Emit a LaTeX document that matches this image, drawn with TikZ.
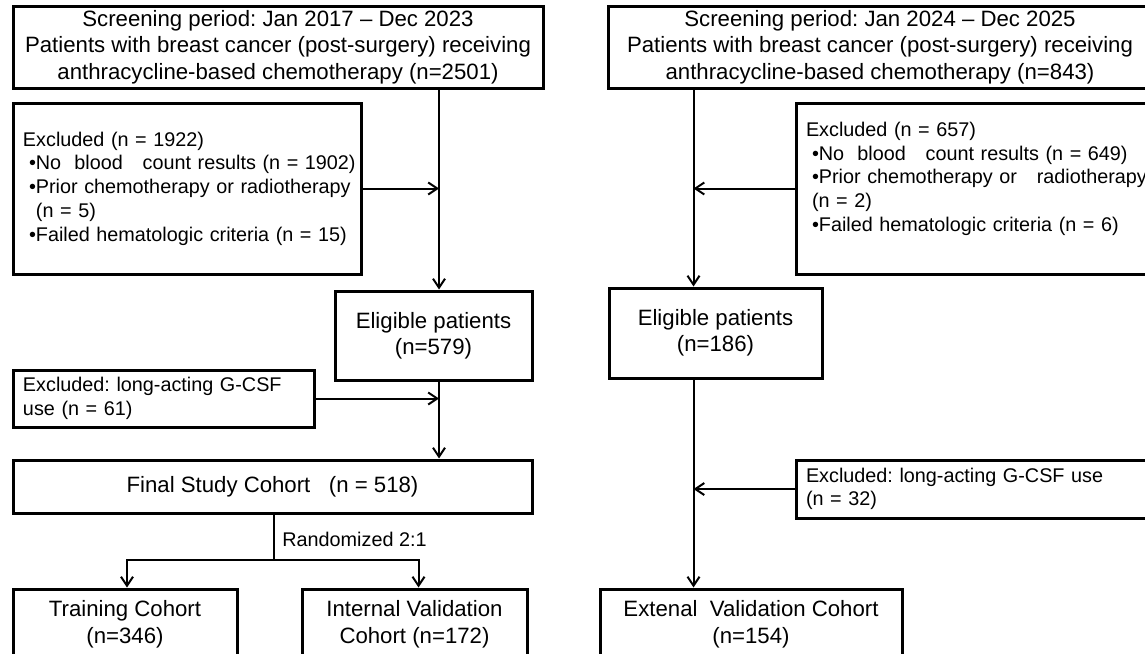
\documentclass[tikz,border=0pt]{standalone}
\usepackage{fontspec}
\setmainfont{Liberation Sans}
\usetikzlibrary{arrows.meta}
\frenchspacing
\newcommand{\exbul}{\hspace*{3pt}\textbullet}
\newcommand{\exind}{\hspace*{3pt}}

\begin{document}
\begin{tikzpicture}[x=0.5pt, y=-0.5pt, >={Straight Barb[length=4.5pt,width=6pt]},
    bigtxt/.style={font=\fontsize{11.1pt}{13.25pt}\selectfont},
    smalltxt/.style={font=\fontsize{9.9pt}{11.85pt}\selectfont},
    box/.style={draw, line width=1.5pt, inner sep=0pt, align=center, bigtxt},
    exbox/.style={draw, line width=1.5pt, inner xsep=5pt, inner ysep=0pt, align=left, smalltxt},
    conn/.style={line width=1pt}]
    \useasboundingbox (0,0) rectangle (1145,653);
    \clip (0,0) rectangle (1145,653);

    % left column
    \node[box, minimum width=265pt, minimum height=41pt] (scrL) at (278,47) {Screening period: Jan 2017 – Dec 2023\\Patients with breast cancer (post-surgery) receiving\\anthracycline-based chemotherapy (n=2501)};
    \node[exbox, minimum width=174pt, minimum height=85.5pt, text width=164pt] (exclL) at (187,188.5) {Excluded (n = 1922)\\\mbox{\exbul No\ \ blood\ \ \ count results (n = 1902)}\\\mbox{\exbul Prior chemotherapy or radiotherapy}\\\exind\phantom{\textbullet}(n = 5)\\\mbox{\exbul Failed hematologic criteria (n = 15)}};
    \node[box, minimum width=98.5pt, minimum height=44.5pt] (eligL) at (433.5,335.5) {Eligible patients\\(n=579)};
    \node[exbox, minimum width=150.5pt, minimum height=28.5pt, text width=140.5pt] (gcsfL) at (163.5,398.5) {Excluded: long-acting G-CSF\\use (n = 61)};
    \node[box, minimum width=259.5pt, minimum height=26.5pt] (final) at (272.5,486.5) {Final Study Cohort\ \ \ (n = 518)};
    \node[smalltxt, anchor=west, inner sep=0pt] (rand) at (282,539) {Randomized 2:1};
    \node[box, minimum width=112pt, minimum height=35pt] (train) at (125,624) {Training Cohort\\(n=346)};
    \node[box, minimum width=112.5pt, minimum height=35pt] (intval) at (414.5,624) {Internal Validation\\Cohort (n=172)};

    % right column
    \node[box, minimum width=272pt, minimum height=41pt] (scrR) at (880,47) {Screening period: Jan 2024 – Dec 2025\\Patients with breast cancer (post-surgery) receiving\\anthracycline-based chemotherapy (n=843)};
    \node[exbox, minimum width=182pt, minimum height=85.5pt, text width=172pt] (exclR) at (978,188.5) {Excluded (n = 657)\\\mbox{\exbul No\ \ blood\ \ \ count results (n = 649)}\\\mbox{\exbul Prior chemotherapy or\ \ \ radiotherapy}\\\exind(n = 2)\\\mbox{\exbul Failed hematologic criteria (n = 6)}\\\mbox{}};
    \node[box, minimum width=106.5pt, minimum height=45pt] (eligR) at (715.5,333) {Eligible patients\\(n=186)};
    \node[exbox, minimum width=182pt, minimum height=29pt, text width=172pt] (gcsfR) at (978,489) {Excluded: long-acting G-CSF use\\(n = 32)};
    \node[box, minimum width=151pt, minimum height=35pt] (extval) at (751,624) {Extenal\ \ Validation Cohort\\(n=154)};

    \coordinate (spineL) at (439,0);
    \coordinate (spineR) at (693.5,0);
    \coordinate (split) at (273.5,560);

    % connectors
    \draw[conn,->] (scrL.south -| spineL) -- (eligL.north -| spineL);
    \draw[conn,->] (exclL.east) -- (exclL.east -| spineL);
    \draw[conn,->] (eligL.south -| spineL) -- (final.north -| spineL);
    \draw[conn,->] (gcsfL.east) -- (gcsfL.east -| spineL);
    \draw[conn] (final.south -| split) -- (split);
    \draw[conn,->] (split) -| ([xshift=1pt]train.north);
    \draw[conn,->] (split) -| ([xshift=2pt]intval.north);

    \draw[conn,->] (scrR.south -| spineR) -- (eligR.north -| spineR);
    \draw[conn,->] (exclR.west) -- (exclR.west -| spineR);
    \draw[conn,->] (eligR.south -| spineR) -- (extval.north -| spineR);
    \draw[conn,->] (gcsfR.west) -- (gcsfR.west -| spineR);
\end{tikzpicture}
\end{document}
